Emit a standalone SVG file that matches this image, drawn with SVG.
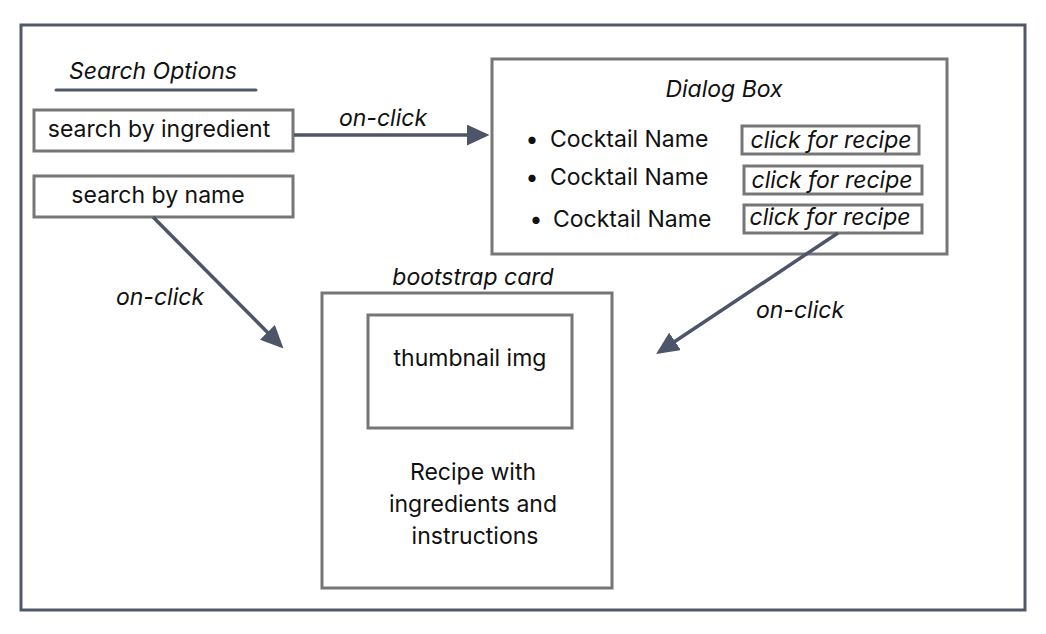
<svg xmlns="http://www.w3.org/2000/svg" width="1046" height="634" viewBox="0 0 1046 634">
<style>
.t{font-family:Inter,"Liberation Sans",sans-serif;font-size:23px;fill:#111}
.i{font-style:italic}
.box{fill:#fff;stroke:#767676;stroke-width:3}
.frame{fill:#fff;stroke:#515869;stroke-width:3}
.conn{stroke:#4e5568;stroke-width:3.5;fill:none}
</style>
<defs>
<marker id="ah" markerWidth="6.5" markerHeight="6" refX="5.5" refY="3" orient="auto" markerUnits="strokeWidth">
<path d="M0,0 L6.5,3 L0,6 Z" fill="#4e5568"/>
</marker>
</defs>
<rect width="1046" height="634" fill="#fff"/>
<rect class="frame" x="21" y="25" width="1004" height="585"/>
<g id="search-options">
<text class="t i" x="153" y="79" text-anchor="middle">Search Options</text>
<line x1="56" y1="90" x2="256" y2="90" stroke="#515869" stroke-width="3" stroke-linecap="round"/>
</g>
<g id="search-ingredient">
<rect class="box" x="34" y="110" width="259" height="41"/>
<text class="t" x="159" y="137" text-anchor="middle">search by ingredient</text>
</g>
<g id="search-name">
<rect class="box" x="34" y="176" width="259" height="41"/>
<text class="t" x="158" y="203" text-anchor="middle">search by name</text>
</g>
<g id="dialog-box">
<rect class="box" x="492" y="59" width="455" height="195"/>
<text class="t i" x="724" y="97" text-anchor="middle">Dialog Box</text>
<text class="t" x="532" y="147" text-anchor="middle">•</text>
<text class="t" x="550" y="147">Cocktail Name</text>
<text class="t" x="532" y="185" text-anchor="middle">•</text>
<text class="t" x="550" y="185">Cocktail Name</text>
<text class="t" x="536" y="227" text-anchor="middle">•</text>
<text class="t" x="553" y="227">Cocktail Name</text>
<rect class="box" x="742" y="126" width="177" height="28"/>
<text class="t i" x="831" y="148" text-anchor="middle">click for recipe</text>
<rect class="box" x="744" y="166" width="178" height="28"/>
<text class="t i" x="832" y="188" text-anchor="middle">click for recipe</text>
<rect class="box" x="744" y="205" width="178" height="28"/>
<text class="t i" x="830" y="225" text-anchor="middle">click for recipe</text>
</g>
<g id="bootstrap-card">
<text class="t i" x="473" y="285" text-anchor="middle">bootstrap card</text>
<rect class="box" x="322" y="293" width="290" height="295"/>
<rect class="box" x="368" y="315" width="204" height="113"/>
<text class="t" x="470" y="366" text-anchor="middle">thumbnail img</text>
<text class="t" x="473" y="480" text-anchor="middle">Recipe with</text>
<text class="t" x="473" y="512" text-anchor="middle">ingredients and</text>
<text class="t" x="475" y="544" text-anchor="middle">instructions</text>
</g>
<g id="connectors">
<line class="conn" x1="294" y1="135" x2="486" y2="135" marker-end="url(#ah)"/>
<text class="t i" x="383" y="126" text-anchor="middle">on-click</text>
<line class="conn" x1="153" y1="217" x2="281" y2="346" marker-end="url(#ah)"/>
<text class="t i" x="160" y="305" text-anchor="middle">on-click</text>
<line class="conn" x1="838" y1="233" x2="659" y2="352" marker-end="url(#ah)"/>
<text class="t i" x="800" y="318" text-anchor="middle">on-click</text>
</g>
</svg>
